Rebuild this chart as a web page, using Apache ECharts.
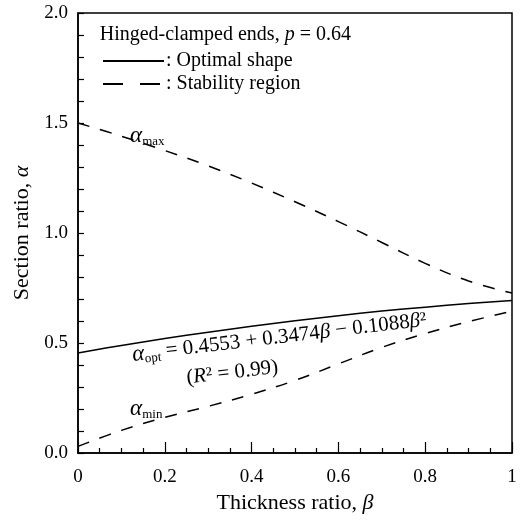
<!DOCTYPE html>
<html>
<head>
<meta charset="UTF-8">
<title>Section ratio</title>
<script src="https://cdn.jsdelivr.net/npm/echarts@6/dist/echarts.min.js"></script>
<style>
  html, body { margin: 0; padding: 0; background: #fff; }
  #main { width: 531px; height: 520px; }
</style>
</head>
<body>
<div id="main"></div>
<script>
// values
var beta     = [0, 0.1, 0.2, 0.3, 0.4, 0.5, 0.6, 0.7, 0.8, 0.9, 1.0];
var alphaOpt = [0.455, 0.489, 0.520, 0.549, 0.576, 0.601, 0.624, 0.645, 0.663, 0.679, 0.693];
var alphaMax = [1.500, 1.440, 1.375, 1.305, 1.227, 1.142, 1.052, 0.957, 0.862, 0.782, 0.727];
var alphaMin = [0.030, 0.103, 0.162, 0.212, 0.267, 0.330, 0.405, 0.480, 0.543, 0.597, 0.645];
var xTicks = [0, 0.2, 0.4, 0.6, 0.8, 1];
var yTicks = [0, 0.5, 1.0, 1.5, 2.0];

function pairs(xs, ys) {
  return xs.map(function (x, i) { return [x, ys[i]]; });
}

var FONT = 'Liberation Serif';
var chart = echarts.init(document.getElementById('main'));

var option = {
  backgroundColor: '#fff',
  animation: false,
  color: ['#000', '#000', '#000'],
  textStyle: { fontFamily: FONT, color: '#000' },
  grid: {
    left: 78, right: 19, top: 13, bottom: 67,
    show: true, borderColor: '#000', borderWidth: 1.5
  },
  legend: {
    orient: 'vertical',
    left: 102, top: 51, padding: 0,
    itemWidth: 61, itemHeight: 14, itemGap: 3,
    data: [
      { name: 'Optimal shape' },
      { name: 'Stability region', lineStyle: { type: [20, 17] } }
    ],
    formatter: ': {name}',
    itemStyle: { opacity: 0 },
    textStyle: { fontFamily: FONT, fontSize: 20, color: '#000', padding: [0, 0, 0, -3] }
  },
  xAxis: {
    type: 'value', min: 0, max: 1, interval: 0.2,
    name: 'Thickness ratio, {i|β}',
    nameLocation: 'middle', nameGap: 38,
    nameTextStyle: {
      fontFamily: FONT, fontSize: 22, color: '#000',
      rich: { i: { fontFamily: FONT, fontSize: 22, fontStyle: 'italic' } }
    },
    axisLine: { lineStyle: { color: '#000', width: 1.5 } },
    axisTick: { inside: true, length: 11, lineStyle: { color: '#000', width: 1.2 } },
    minorTick: { show: true, splitNumber: 4, length: 5, lineStyle: { color: '#000', width: 1.2 } },
    splitLine: { show: false },
    axisLabel: {
      margin: 15, fontFamily: FONT, fontSize: 19, color: '#000',
      formatter: function (v) {
        var t = xTicks.filter(function (k) { return Math.abs(k - v) < 1e-9; })[0];
        if (t === undefined) return '';
        return t === 0 || t === 1 ? String(t) : t.toFixed(1);
      }
    }
  },
  yAxis: {
    type: 'value', min: 0, max: 2, interval: 0.5,
    name: 'Section ratio, {i|α}',
    nameLocation: 'middle', nameGap: 44,
    nameTextStyle: {
      fontFamily: FONT, fontSize: 22, color: '#000',
      rich: { i: { fontFamily: FONT, fontSize: 22, fontStyle: 'italic' } }
    },
    axisLine: { lineStyle: { color: '#000', width: 1.5 } },
    axisTick: { inside: true, length: 6, lineStyle: { color: '#000', width: 1.2 } },
    minorTick: { show: true, splitNumber: 5, length: 6, lineStyle: { color: '#000', width: 1.2 } },
    splitLine: { show: false },
    axisLabel: {
      margin: 10, fontFamily: FONT, fontSize: 19, color: '#000',
      formatter: function (v) {
        var t = yTicks.filter(function (k) { return Math.abs(k - v) < 1e-9; })[0];
        return t === undefined ? '' : t.toFixed(1);
      }
    }
  },
  series: [
    {
      name: 'Optimal shape', type: 'line', smooth: 0.4, symbol: 'none',
      data: pairs(beta, alphaOpt),
      lineStyle: { color: '#000', width: 1.5, type: 'solid' }
    },
    {
      name: 'Stability region', type: 'line', smooth: 0.4, symbol: 'none',
      data: pairs(beta, alphaMax),
      lineStyle: { color: '#000', width: 1.5, type: [12, 11] }
    },
    {
      name: 'Stability region', type: 'line', smooth: 0.4, symbol: 'none',
      data: pairs(beta, alphaMin),
      lineStyle: { color: '#000', width: 1.5, type: [12, 11] }
    }
  ]
};
chart.setOption(option);

// annotations placed in data coordinates
function px(x, y) { return chart.convertToPixel({ gridIndex: 0 }, [x, y]); }

var rich = {
  t: { fontFamily: FONT, fontSize: 20, fill: '#000' },
  e: { fontFamily: FONT, fontSize: 21, fill: '#000' },
  ei: { fontFamily: FONT, fontSize: 21, fontStyle: 'italic', fill: '#000' },
  i: { fontFamily: FONT, fontSize: 20, fontStyle: 'italic', fill: '#000' },
  a: { fontFamily: FONT, fontSize: 23, fontStyle: 'italic', fill: '#000' },
  s: { fontFamily: FONT, fontSize: 13, fill: '#000', padding: [11, 0, 0, 0] }
};

function label(pos, text, rot) {
  return {
    type: 'text', x: pos[0], y: pos[1], rotation: rot || 0,
    style: { text: text, rich: rich, align: 'left', verticalAlign: 'middle', fill: '#000' }
  };
}

var tilt = 6.8 * Math.PI / 180;
chart.setOption({
  graphic: [
    label(px(0.05, 1.90), '{t|Hinged-clamped ends, }{i|p}{t| = 0.64}'),
    label(px(0.12, 1.44), '{a|α}{s|max}'),
    label(px(0.125, 0.445), '{a|α}{s|opt}{e| = 0.4553 + 0.3474}{ei|β}{e| − 0.1088}{ei|β}{e|²}', tilt),
    label(px(0.25, 0.34), '{e|(}{ei|R}{e|² = 0.99)}', tilt),
    label(px(0.12, 0.20), '{a|α}{s|min}')
  ]
});
</script>
</body>
</html>
